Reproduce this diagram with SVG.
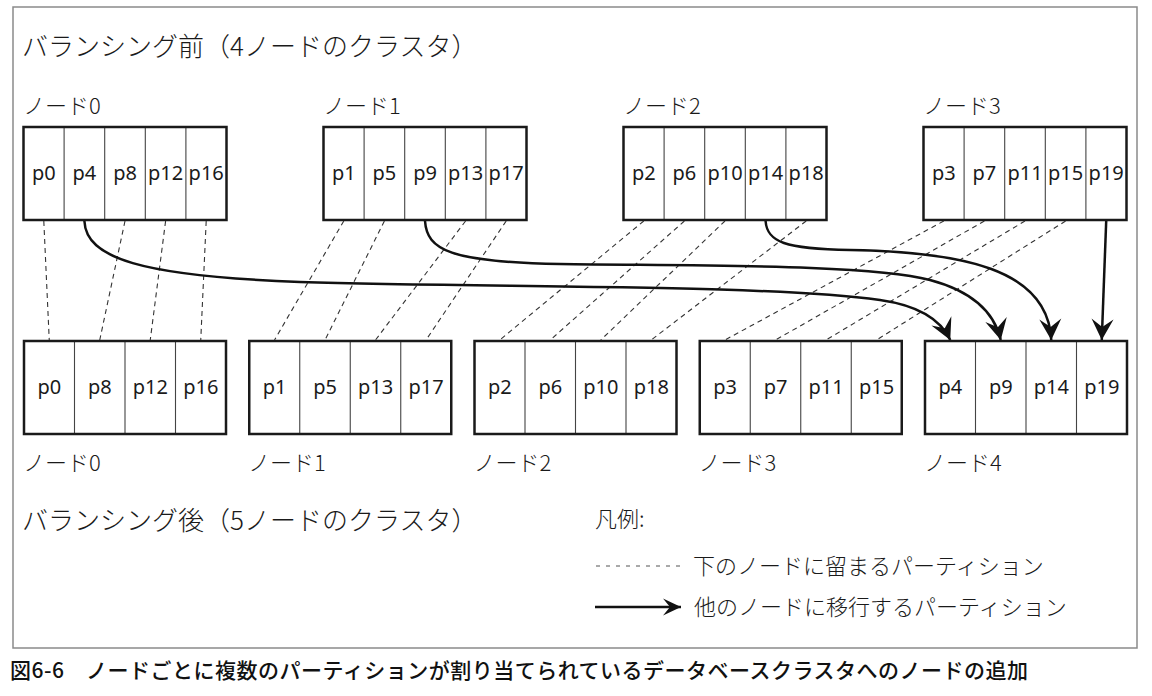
<svg xmlns="http://www.w3.org/2000/svg" width="1152" height="696" viewBox="0 0 1152 696">
<style>
.frame{fill:none;stroke:#8a8a8a;stroke-width:1.5}
.box{fill:none;stroke:#1a1a1a;stroke-width:2.5}
.cell{fill:#fff}
.div{stroke:#444;stroke-width:1.1}
.pl{font-family:"Noto Sans","Liberation Sans",sans-serif;font-size:20px;fill:#1a1a1a;text-anchor:middle}
.jp{font-family:"Noto Sans CJK JP","Noto Sans",sans-serif;fill:#1a1a1a;font-weight:300}
.title{font-size:26px}
.lbl{font-size:22px}
.cap{font-size:21px;font-weight:500;fill:#111}
.stay{stroke:#333;stroke-width:1.1;stroke-dasharray:5 4;fill:none}
.move{stroke:#111;stroke-width:2.5;fill:none;marker-end:url(#ah)}
.legstay{stroke:#555;stroke-width:1.1;stroke-dasharray:4 6;fill:none}
.legmove{stroke:#111;stroke-width:2.5;fill:none;marker-end:url(#ahs)}
</style>
<defs>
<marker id="ah" markerUnits="userSpaceOnUse" markerWidth="24" markerHeight="24" viewBox="-22 -12 24 24" refX="0" refY="0" orient="auto">
<path d="M0,0 L-21,-11 L-13,0 L-21,11 Z" fill="#111"/>
</marker>
<marker id="ahs" markerUnits="userSpaceOnUse" markerWidth="24" markerHeight="24" viewBox="-22 -12 24 24" refX="0" refY="0" orient="auto">
<path d="M0,0 L-18,-8.5 L-11,0 L-18,8.5 Z" fill="#111"/>
</marker>
</defs>
<rect width="1152" height="696" fill="#fff"/>
<rect class="frame" x="13" y="7" width="1124" height="641"/>

<text class="jp title" x="22" y="56">バランシング前（4ノードのクラスタ）</text>
<text class="jp title" x="22" y="530">バランシング後（5ノードのクラスタ）</text>

<!-- before nodes -->
<g id="before-node0">
<text class="jp lbl" x="23" y="114">ノード0</text>
<rect class="cell" x="23.5" y="127" width="203" height="93"/>
<path class="div" d="M64.1 127V220M104.7 127V220M145.3 127V220M185.9 127V220"/>
<rect class="box" x="23.5" y="127" width="203" height="93"/>
<text class="pl" x="43.8" y="180">p0</text><text class="pl" x="84.4" y="180">p4</text><text class="pl" x="125" y="180">p8</text><text class="pl" x="165.6" y="180">p12</text><text class="pl" x="206.2" y="180">p16</text>
</g>
<g id="before-node1">
<text class="jp lbl" x="323" y="114">ノード1</text>
<rect class="cell" x="323.5" y="127" width="203" height="93"/>
<path class="div" d="M364.1 127V220M404.7 127V220M445.3 127V220M485.9 127V220"/>
<rect class="box" x="323.5" y="127" width="203" height="93"/>
<text class="pl" x="343.8" y="180">p1</text><text class="pl" x="384.4" y="180">p5</text><text class="pl" x="425" y="180">p9</text><text class="pl" x="465.6" y="180">p13</text><text class="pl" x="506.2" y="180">p17</text>
</g>
<g id="before-node2">
<text class="jp lbl" x="623" y="114">ノード2</text>
<rect class="cell" x="623.5" y="127" width="203" height="93"/>
<path class="div" d="M664.1 127V220M704.7 127V220M745.3 127V220M785.9 127V220"/>
<rect class="box" x="623.5" y="127" width="203" height="93"/>
<text class="pl" x="643.8" y="180">p2</text><text class="pl" x="684.4" y="180">p6</text><text class="pl" x="725" y="180">p10</text><text class="pl" x="765.6" y="180">p14</text><text class="pl" x="806.2" y="180">p18</text>
</g>
<g id="before-node3">
<text class="jp lbl" x="923" y="114">ノード3</text>
<rect class="cell" x="923.5" y="127" width="203" height="93"/>
<path class="div" d="M964.1 127V220M1004.7 127V220M1045.3 127V220M1085.9 127V220"/>
<rect class="box" x="923.5" y="127" width="203" height="93"/>
<text class="pl" x="943.8" y="180">p3</text><text class="pl" x="984.4" y="180">p7</text><text class="pl" x="1025" y="180">p11</text><text class="pl" x="1065.6" y="180">p15</text><text class="pl" x="1106.2" y="180">p19</text>
</g>

<!-- after nodes -->
<g id="after-node0">
<rect class="cell" x="24" y="341" width="202" height="93"/>
<path class="div" d="M74.5 341V434M125 341V434M175.5 341V434"/>
<rect class="box" x="24" y="341" width="202" height="93"/>
<text class="pl" x="49.25" y="394">p0</text><text class="pl" x="99.75" y="394">p8</text><text class="pl" x="150.25" y="394">p12</text><text class="pl" x="200.75" y="394">p16</text>
<text class="jp lbl" x="23" y="471">ノード0</text>
</g>
<g id="after-node1">
<rect class="cell" x="249.25" y="341" width="202" height="93"/>
<path class="div" d="M299.75 341V434M350.25 341V434M400.75 341V434"/>
<rect class="box" x="249.25" y="341" width="202" height="93"/>
<text class="pl" x="274.5" y="394">p1</text><text class="pl" x="325" y="394">p5</text><text class="pl" x="375.5" y="394">p13</text><text class="pl" x="426" y="394">p17</text>
<text class="jp lbl" x="248" y="471">ノード1</text>
</g>
<g id="after-node2">
<rect class="cell" x="474.5" y="341" width="202" height="93"/>
<path class="div" d="M525 341V434M575.5 341V434M626 341V434"/>
<rect class="box" x="474.5" y="341" width="202" height="93"/>
<text class="pl" x="499.75" y="394">p2</text><text class="pl" x="550.25" y="394">p6</text><text class="pl" x="600.75" y="394">p10</text><text class="pl" x="651.25" y="394">p18</text>
<text class="jp lbl" x="473.5" y="471">ノード2</text>
</g>
<g id="after-node3">
<rect class="cell" x="699.75" y="341" width="202" height="93"/>
<path class="div" d="M750.25 341V434M800.75 341V434M851.25 341V434"/>
<rect class="box" x="699.75" y="341" width="202" height="93"/>
<text class="pl" x="725" y="394">p3</text><text class="pl" x="775.5" y="394">p7</text><text class="pl" x="826" y="394">p11</text><text class="pl" x="876.5" y="394">p15</text>
<text class="jp lbl" x="698.5" y="471">ノード3</text>
</g>
<g id="after-node4">
<rect class="cell" x="925" y="341" width="202" height="93"/>
<path class="div" d="M975.5 341V434M1026 341V434M1076.5 341V434"/>
<rect class="box" x="925" y="341" width="202" height="93"/>
<text class="pl" x="950.25" y="394">p4</text><text class="pl" x="1000.75" y="394">p9</text><text class="pl" x="1051.25" y="394">p14</text><text class="pl" x="1101.75" y="394">p19</text>
<text class="jp lbl" x="924" y="471">ノード4</text>
</g>

<!-- connectors -->
<g id="connectors">
<path class="stay" d="M43.8 221L49.25 340M125 221L99.75 340M165.6 221L150.25 340M206.2 221L200.75 340"/>
<path class="stay" d="M343.8 221L274.5 340M384.4 221L325 340M465.6 221L375.5 340M506.2 221L426 340"/>
<path class="stay" d="M643.8 221L499.75 340M684.4 221L550.25 340M725 221L600.75 340M806.2 221L651.25 340"/>
<path class="stay" d="M943.8 221L725 340M984.4 221L775.5 340M1025 221L826 340M1065.6 221L876.5 340"/>
<path class="move" d="M84.4 221C86 258 140 276 300 282C500 288 760 284 880 300C915 305 940 318 950.25 340"/>
<path class="move" d="M425 221C427 250 450 262 560 264C700 266 870 264 930 280C975 292 995 315 1000.75 340"/>
<path class="move" d="M765.6 221C767 242 785 249 850 250C960 252 1048 268 1051.25 340"/>
<path class="move" d="M1106.2 221L1101.75 340"/>
</g>

<!-- legend -->
<g id="legend">
<text class="jp lbl" x="595" y="527">凡例:</text>
<path class="legstay" d="M596 566H684"/>
<text class="jp lbl" x="693" y="574">下のノードに留まるパーティション</text>
<path class="legmove" d="M595 607H681"/>
<text class="jp lbl" x="694" y="615">他のノードに移行するパーティション</text>
</g>

<text class="jp cap" x="10" y="678" textLength="1018" lengthAdjust="spacing">図6-6　ノードごとに複数のパーティションが割り当てられているデータベースクラスタへのノードの追加</text>
</svg>
